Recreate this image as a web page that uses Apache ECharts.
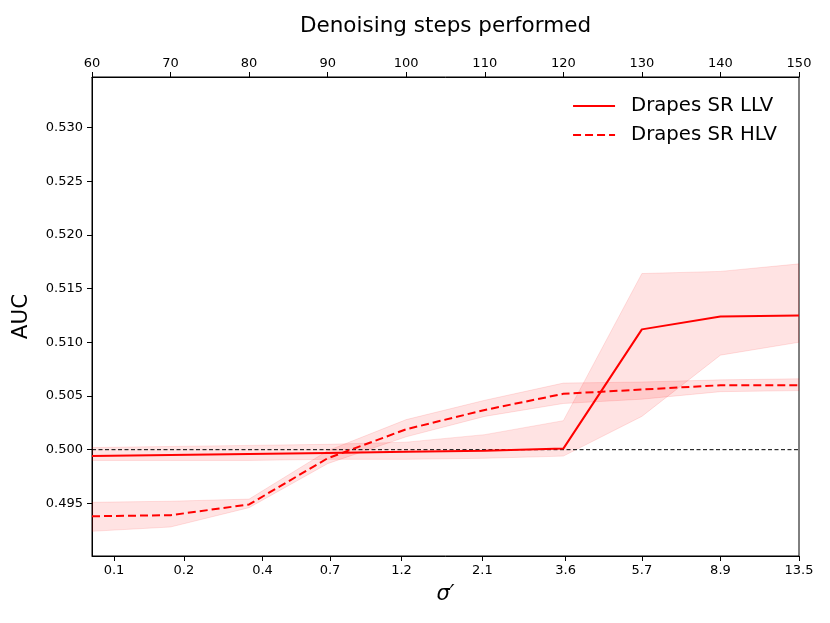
<!DOCTYPE html>
<html>
<head>
<meta charset="utf-8">
<script src="https://cdn.jsdelivr.net/npm/echarts@6/dist/echarts.min.js"></script>
<style>html,body{margin:0;padding:0;background:#fff;}#c{width:830px;height:623px;}</style>
</head>
<body>
<div id="c"></div>
<script>
// Denoising steps (top axis) — x positions of the data points
var steps = [60, 70, 80, 90, 100, 110, 120, 130, 140, 150];
// sigma' tick labels on the bottom axis and their step positions
var sigmaLabels = ['0.1', '0.2', '0.4', '0.7', '1.2', '2.1', '3.6', '5.7', '8.9', '13.5'];
var sigmaAt = [62.8, 71.7, 81.7, 90.3, 99.4, 109.7, 120.3, 130, 140, 150];
// y tick labels
var yTicks = [0.495, 0.500, 0.505, 0.510, 0.515, 0.520, 0.525, 0.530];

// Drapes SR LLV (solid)
var llvMean  = [0.4994, 0.4995, 0.4996, 0.4997, 0.4998, 0.4999, 0.5001, 0.5112, 0.5124, 0.5125];
var llvUpper = [0.5002, 0.5003, 0.5004, 0.5005, 0.5007, 0.5014, 0.5027, 0.5164, 0.5166, 0.5173];
var llvLower = [0.4990, 0.4990, 0.4990, 0.4991, 0.4991, 0.4992, 0.4994, 0.5031, 0.5088, 0.5100];
// Drapes SR HLV (dashed)
var hlvMean  = [0.4938, 0.4939, 0.4949, 0.4992, 0.5019, 0.5037, 0.5052, 0.5056, 0.5060, 0.5060];
var hlvUpper = [0.4951, 0.4952, 0.4954, 0.4999, 0.5028, 0.5046, 0.5062, 0.5063, 0.5065, 0.5066];
var hlvLower = [0.4924, 0.4928, 0.4946, 0.4987, 0.5012, 0.5031, 0.5043, 0.5047, 0.5054, 0.5055];
var chanceLevel = 0.5;

function pairs(xs, ys) { return xs.map(function (x, i) { return [x, ys[i]]; }); }

function bandSeries(name, upper, lower) {
  return {
    type: 'custom',
    name: name,
    xAxisIndex: 1,
    silent: true,
    clip: true,
    z: 1,
    data: [0],
    renderItem: function (params, api) {
      var pts = [];
      for (var i = 0; i < steps.length; i++) pts.push(api.coord([steps[i], upper[i]]));
      for (var j = steps.length - 1; j >= 0; j--) pts.push(api.coord([steps[j], lower[j]]));
      return {
        type: 'polygon',
        shape: { points: pts },
        style: { fill: 'rgba(255,0,0,0.11)', stroke: 'rgba(255,0,0,0.11)', lineWidth: 1 }
      };
    }
  };
}

var chart = echarts.init(document.getElementById('c'), null, { renderer: 'canvas' });
var font = 'DejaVu Sans';
chart.setOption({
  animation: false,
  backgroundColor: '#fff',
  textStyle: { fontFamily: font },
  grid: { left: 92, right: 31, top: 77, bottom: 67, show: true, borderColor: '#000', borderWidth: 1, backgroundColor: 'transparent' },
  legend: {
    right: 48, top: 91, orient: 'vertical', itemWidth: 42, itemHeight: 10, itemGap: 9,
    itemStyle: { opacity: 0 },
    textStyle: { fontFamily: font, fontSize: 19.7, color: '#000', padding: [0, 0, 0, 11] },
    data: ['Drapes SR LLV', 'Drapes SR HLV']
  },
  xAxis: [
    {
      type: 'value', position: 'bottom', min: 60, max: 150,
      name: 'σ′', nameLocation: 'middle', nameGap: 28,
      nameTextStyle: { fontFamily: font, fontSize: 21, fontStyle: 'italic', color: '#000' },
      axisLine: { show: true, lineStyle: { color: '#000', width: 1 } },
      axisTick: { show: true, length: 5, customValues: sigmaAt, lineStyle: { color: '#000' } },
      axisLabel: {
        customValues: sigmaAt, color: '#000', fontSize: 13, fontFamily: font, margin: 8,
        formatter: function (v) {
          for (var i = 0; i < sigmaAt.length; i++) if (Math.abs(sigmaAt[i] - v) < 1e-6) return sigmaLabels[i];
          return '';
        }
      },
      splitLine: { show: false }
    },
    {
      type: 'value', position: 'top', min: 60, max: 150, interval: 10,
      name: 'Denoising steps performed', nameLocation: 'middle', nameGap: 40,
      nameTextStyle: { fontFamily: font, fontSize: 21.5, color: '#000' },
      axisLine: { show: true, lineStyle: { color: '#000', width: 1 } },
      axisTick: { show: true, length: 5, lineStyle: { color: '#000' } },
      axisLabel: { color: '#000', fontSize: 13, fontFamily: font, margin: 7 },
      splitLine: { show: false }
    }
  ],
  yAxis: {
    type: 'value', min: 0.4901, max: 0.5347,
    name: 'AUC', nameLocation: 'middle', nameGap: 60,
    nameTextStyle: { fontFamily: font, fontSize: 21.5, color: '#000' },
    axisLine: { show: true, lineStyle: { color: '#000', width: 1 } },
    axisTick: { show: true, length: 5, customValues: yTicks, lineStyle: { color: '#000' } },
    axisLabel: {
      customValues: yTicks, color: '#000', fontSize: 13, fontFamily: font, margin: 9,
      formatter: function (v) { return v.toFixed(3); }
    },
    splitLine: { show: false }
  },
  series: [
    bandSeries('llvBand', llvUpper, llvLower),
    bandSeries('hlvBand', hlvUpper, hlvLower),
    {
      type: 'line', name: 'chance', xAxisIndex: 1, showSymbol: false, silent: true, z: 2,
      data: [[steps[0], chanceLevel], [steps[steps.length - 1], chanceLevel]],
      lineStyle: { color: '#000', width: 1, type: [4, 2.5] }
    },
    {
      type: 'line', name: 'Drapes SR LLV', xAxisIndex: 1, showSymbol: false, symbol: 'none', z: 3,
      data: pairs(steps, llvMean),
      itemStyle: { color: '#ff0000' },
      lineStyle: { color: '#ff0000', width: 2 }
    },
    {
      type: 'line', name: 'Drapes SR HLV', xAxisIndex: 1, showSymbol: false, symbol: 'none', z: 3,
      data: pairs(steps, hlvMean),
      itemStyle: { color: '#ff0000' },
      lineStyle: { color: '#ff0000', width: 2, type: [8, 4] }
    }
  ]
});
</script>
</body>
</html>
